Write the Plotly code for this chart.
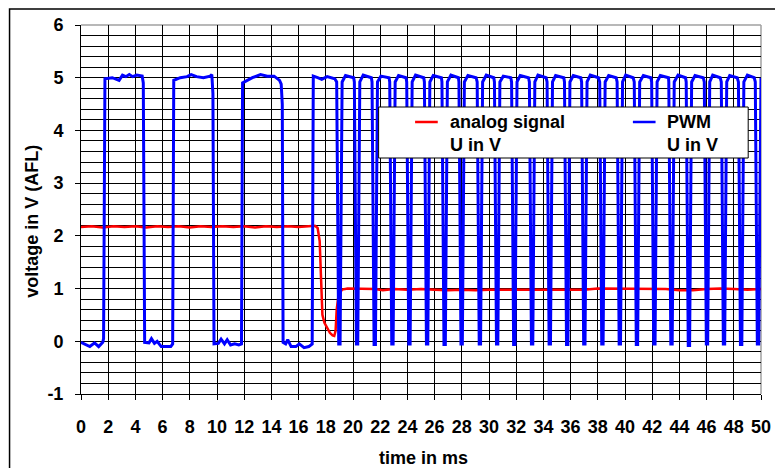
import plotly.graph_objects as go

# ---------------- data ----------------
analog_t = [0.0, 0.8, 1.6, 2.4, 3.2, 4.0, 4.8, 5.6, 6.4, 7.2, 8.0,
            8.8, 9.6, 10.4, 11.2, 12.0, 12.8, 13.6, 14.4, 15.2, 16.0, 16.8,
            17.2, 17.4, 17.55, 17.65, 17.75, 17.9, 18.1, 18.3, 18.5, 18.62,
            18.72, 18.8, 18.95, 19.2, 19.6, 20.2,
            21.0, 21.6, 22.2, 23.0,
            24.0, 25.0, 26.0, 27.0, 28.0, 29.0, 30.0, 31.0, 32.0, 33.0,
            34.0, 35.0, 36.0, 37.0, 38.0, 39.0, 40.0, 41.0, 42.0, 43.0,
            44.0, 45.0, 46.0, 47.0, 48.0, 49.0, 50.0]
analog_v = [2.17, 2.18, 2.16, 2.18, 2.17, 2.18, 2.16, 2.18, 2.17, 2.18, 2.16,
            2.18, 2.17, 2.18, 2.17, 2.18, 2.16, 2.18, 2.17, 2.18, 2.17, 2.18,
            2.19, 2.15, 1.90, 1.20, 0.50, 0.35, 0.24, 0.16, 0.11, 0.10,
            0.20, 0.60, 0.90, 0.98, 1.00, 1.00,
            1.00, 0.99, 0.97, 0.99,
            0.98, 0.99, 0.98, 0.97, 0.98, 0.97, 0.98, 0.98, 0.99, 0.98,
            0.99, 0.99, 0.99, 0.98, 1.00, 1.00, 1.00, 0.99, 1.00, 0.99,
            0.97, 0.97, 0.99, 1.00, 0.99, 0.98, 0.99]

pwm_t = [0.00, 0.30, 0.65, 1.00, 1.30, 1.60, 1.66, 1.76, 2.30, 2.80, 3.05,
         3.30, 3.55, 3.80, 4.10, 4.50, 4.58, 4.68, 5.00, 5.18, 5.40, 5.60,
         5.90, 6.60, 6.74, 6.82, 7.30, 7.80, 8.10, 8.50, 9.00, 9.50, 9.62,
         9.70, 9.78, 10.10, 10.30, 10.55, 10.75, 11.00, 11.30, 11.60, 11.80,
         11.88, 12.20, 12.60, 13.20, 13.70, 14.20, 14.60, 14.72, 14.80, 14.86,
         15.05, 15.20, 15.45, 15.80, 16.05, 16.40, 16.75, 17.00, 17.08, 17.40,
         17.70, 18.10, 18.50, 18.66,
         18.80, 18.95, 19.05, 19.20, 19.45, 20.05,
         20.10, 20.25, 20.35, 20.50, 20.75, 21.35,
         21.40, 21.55, 21.65, 21.80, 22.05, 22.65,
         22.70, 22.85, 22.95, 23.10, 23.35, 23.90,
         23.95, 24.10, 24.20, 24.35, 24.60, 25.20,
         25.25, 25.40, 25.50, 25.65, 25.90, 26.50,
         26.54, 26.69, 26.79, 26.94, 27.20, 27.75,
         27.79, 27.94, 28.04, 28.19, 28.45, 29.05,
         29.13, 29.28, 29.38, 29.53, 29.80, 30.35,
         30.40, 30.55, 30.65, 30.80, 31.05, 31.60,
         31.66, 31.81, 31.91, 32.06, 32.30, 32.90,
         32.97, 33.12, 33.22, 33.37, 33.60, 34.20,
         34.27, 34.42, 34.52, 34.67, 34.90, 35.50,
         35.55, 35.70, 35.80, 35.95, 36.20, 36.75,
         36.81, 36.96, 37.06, 37.21, 37.45, 38.05,
         38.14, 38.29, 38.39, 38.54, 38.80, 39.35,
         39.42, 39.57, 39.67, 39.82, 40.05, 40.60,
         40.68, 40.83, 40.93, 41.08, 41.35, 41.90,
         41.96, 42.11, 42.21, 42.36, 42.60, 43.20,
         43.22, 43.37, 43.47, 43.62, 43.90, 44.45,
         44.50, 44.65, 44.75, 44.90, 45.15, 45.75,
         45.83, 45.98, 46.08, 46.23, 46.45, 47.00,
         47.08, 47.23, 47.33, 47.48, 47.70, 48.25,
         48.34, 48.49, 48.59, 48.74, 49.00, 49.50,
         49.58, 49.73, 49.83, 49.97, 50.00]
pwm_v = [-0.02, -0.06, -0.10, -0.03, -0.10, -0.02, 0.05, 4.98, 5.00, 4.95, 5.05,
         5.02, 5.06, 5.02, 5.05, 5.03, 4.90, -0.02, -0.03, 0.05, -0.04, 0.00,
         -0.10, -0.10, -0.05, 4.95, 5.00, 5.02, 5.06, 5.02, 5.00, 5.03, 5.06,
         4.70, -0.05, -0.04, 0.04, -0.05, 0.03, -0.07, -0.05, -0.07, -0.05,
         4.90, 4.95, 5.00, 5.06, 5.03, 5.03, 4.95, 4.88, 4.50, -0.02,
         -0.05, 0.03, -0.10, -0.10, -0.05, -0.12, -0.10, -0.05, 5.03, 5.00,
         4.97, 5.02, 5.00, 4.98,
         4.92, -0.05, -0.05, 4.92, 5.04, 5.00,
         4.92, -0.05, -0.05, 4.92, 5.05, 5.00,
         4.92, -0.06, -0.06, 4.92, 5.03, 5.00,
         4.92, -0.05, -0.05, 4.92, 5.04, 5.00,
         4.92, -0.05, -0.05, 4.92, 5.05, 5.00,
         4.92, -0.05, -0.05, 4.92, 5.04, 5.00,
         4.92, -0.06, -0.06, 4.92, 5.05, 5.00,
         4.92, -0.05, -0.05, 4.92, 5.04, 5.00,
         4.92, -0.05, -0.05, 4.92, 5.05, 5.00,
         4.92, -0.05, -0.05, 4.92, 5.03, 5.00,
         4.92, -0.06, -0.06, 4.92, 5.04, 5.00,
         4.92, -0.05, -0.05, 4.92, 5.05, 5.00,
         4.92, -0.05, -0.05, 4.92, 5.04, 5.00,
         4.92, -0.06, -0.06, 4.92, 5.04, 5.00,
         4.92, -0.05, -0.05, 4.92, 5.05, 5.00,
         4.92, -0.05, -0.05, 4.92, 5.04, 5.00,
         4.92, -0.05, -0.05, 4.92, 5.05, 5.00,
         4.92, -0.06, -0.06, 4.92, 5.04, 5.00,
         4.92, -0.05, -0.05, 4.92, 5.04, 5.00,
         4.92, -0.05, -0.05, 4.92, 5.05, 5.00,
         4.92, -0.08, -0.08, 4.92, 5.04, 5.00,
         4.92, -0.05, -0.05, 4.92, 5.05, 5.00,
         4.92, -0.05, -0.05, 4.92, 5.04, 5.00,
         4.92, -0.06, -0.06, 4.92, 5.05, 5.00,
         4.92, -0.05, -0.05, 4.92, 5.00]

series_names = ["analog signal<br>U in V", "PWM<br>U in V"]
series_colors = ["#FF0000", "#0000FF"]
x_title = "time in ms"
y_title = "voltage in V (AFL)"
x_range = [0, 50]
y_range = [-1, 6]
y_tickvals = [-1, 0, 1, 2, 3, 4, 5, 6]
y_ticktext = ["-1", "0", "1", "2", "3", "4", "5", "6"]

# ---------------- figure ----------------
W, H = 775, 468
ML, MR, MT, MB = 81, 4, 25, 74
PW, PH = W - ML - MR, H - MT - MB


def px_x(p):
    return (p - ML) / PW


def px_y(p):
    return (H - MB - p) / PH


FONT = "Liberation Sans, Arial, sans-serif"

fig = go.Figure()
fig.add_trace(go.Scatter(x=analog_t, y=analog_v, mode="lines", name=series_names[0],
                         line=dict(color=series_colors[0], width=2.5), showlegend=False))
fig.add_trace(go.Scatter(x=pwm_t, y=pwm_v, mode="lines", name=series_names[1],
                         line=dict(color=series_colors[1], width=3), showlegend=False))

axis_common = dict(
    showgrid=True, gridcolor="black", gridwidth=1,
    ticks="outside", ticklen=5, tickcolor="black", tickwidth=1,
    showline=True, linecolor="black", linewidth=1,
    zeroline=False, fixedrange=True,
    tickfont=dict(family=FONT, size=18, color="black", weight="bold"),
)

fig.update_xaxes(range=x_range, tick0=0, dtick=2, ticklabelstandoff=11,
                 ticklabeloverflow="allow", **axis_common)
fig.update_yaxes(range=y_range, tickmode="array", tickvals=y_tickvals, ticktext=y_ticktext,
                 ticklabelstandoff=8,
                 minor=dict(dtick=0.2, showgrid=True, gridcolor="black", gridwidth=1, ticks=""),
                 **axis_common)

shapes = [
    # outer chart frame
    dict(type="rect", xref="paper", yref="paper",
         x0=px_x(8.5), x1=px_x(790), y0=px_y(490), y1=px_y(9),
         line=dict(color="black", width=1.5), fillcolor="rgba(0,0,0,0)", layer="above"),
    # grey plot-area border top/right
    dict(type="line", xref="paper", yref="paper", x0=0, x1=1, y0=1, y1=1,
         line=dict(color="#A0A0A0", width=1.5), layer="between"),
    dict(type="line", xref="paper", yref="paper", x0=1, x1=1, y0=0, y1=1,
         line=dict(color="#A0A0A0", width=1.5), layer="between"),
    # legend box
    dict(type="rect", xref="paper", yref="paper",
         x0=px_x(383), x1=px_x(758), y0=px_y(158), y1=px_y(107),
         line=dict(color="black", width=1), fillcolor="white", layer="above"),
    dict(type="line", xref="paper", yref="paper",
         x0=px_x(420), x1=px_x(443), y0=px_y(122), y1=px_y(122),
         line=dict(color=series_colors[0], width=2.5), layer="above"),
    dict(type="line", xref="paper", yref="paper",
         x0=px_x(641), x1=px_x(664), y0=px_y(122), y1=px_y(122),
         line=dict(color=series_colors[1], width=2.5), layer="above"),
]

title_font = dict(family=FONT, size=18, color="black", weight="bold")
annotations = [
    dict(text=series_names[0], xref="paper", yref="paper", x=px_x(453), y=px_y(110),
         xanchor="left", yanchor="top", align="left", showarrow=False, font=title_font),
    dict(text=series_names[1], xref="paper", yref="paper", x=px_x(674), y=px_y(110),
         xanchor="left", yanchor="top", align="left", showarrow=False, font=title_font),
    dict(text=x_title, xref="paper", yref="paper", x=px_x(429), y=px_y(458),
         xanchor="center", yanchor="middle", showarrow=False, font=title_font),
    dict(text=y_title, xref="paper", yref="paper", x=px_x(31), y=px_y(221),
         xanchor="center", yanchor="middle", textangle=-90, showarrow=False, font=title_font),
]

fig.update_layout(
    width=W, height=H,
    margin=dict(l=ML, r=MR, t=MT, b=MB),
    paper_bgcolor="white", plot_bgcolor="white",
    showlegend=False,
    font=dict(family=FONT, color="black"),
    shapes=shapes, annotations=annotations,
)

fig.write_html("out.html")
